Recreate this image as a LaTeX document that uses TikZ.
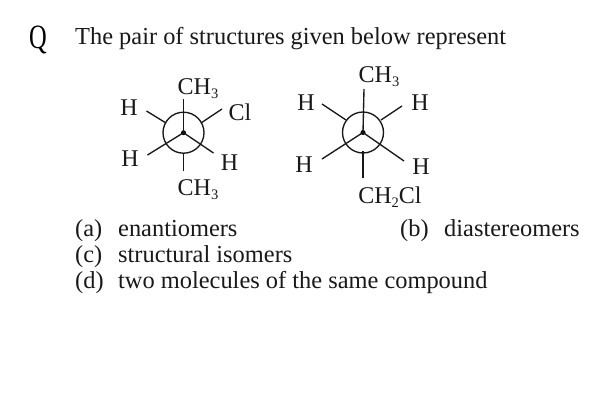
\documentclass[tikz,border=0pt]{standalone}
\usepackage{fontspec}
\setmainfont{Liberation Serif}
\tikzset{
  txt/.style={inner sep=0pt,anchor=base west,font=\fontsize{24.4}{26}\selectfont,text=black!90},
  atom/.style={inner sep=0pt,anchor=base,font=\fontsize{24}{26}\selectfont,text=black!90},
  bond/.style={line width=1.35pt,black!90},
  ring/.style={line width=1.35pt,black!90,circle,draw,inner sep=0pt,minimum size=41pt},
  hub/.style={circle,fill=black,inner sep=0pt,minimum size=5pt}
}
\newcommand{\subs}[1]{\raisebox{-4pt}{\fontsize{14.5}{14}\selectfont #1}}
\begin{document}
\begin{tikzpicture}[x=1pt,y=-1pt]
\useasboundingbox[fill=white] (0,0) rectangle (600,400);
\node[txt,font=\fontsize{34}{35}\selectfont,xscale=0.72,text=black] (q) at (29,48) {Q};
\node[txt] (title) at (75,44) {The pair of structures given below represent};
% left Newman projection
\node[ring] (c1) at (183.5,132.7) {};
\node[hub] (h1) at (183.5,132.7) {};
\foreach \n/\x/\y in {a/183.5/99,b/147.5/155,c/213.5/153}{\coordinate (l\n) at (\x,\y);}
\draw[bond] (h1.center) -- (la);
\draw[bond] (h1.center) -- (lb);
\draw[bond] (h1.center) -- (lc);
\coordinate (ld) at (146.5,111); \coordinate (ld2) at (166,123);
\coordinate (le) at (222,109); \coordinate (le2) at (201,123);
\coordinate (lf) at (183.5,171); \coordinate (lf2) at (183.5,153);
\draw[bond] (ld) -- (ld2);
\draw[bond] (le) -- (le2);
\draw[bond] (lf) -- (lf2);
\node[atom] (l1) at (198,94) {CH\subs{3}};
\node[atom] (l2) at (129,115) {H};
\node[atom] (l3) at (240,120) {Cl};
\node[atom] (l4) at (130,166) {H};
\node[atom] (l5) at (229.5,170) {H};
\node[atom] (l6) at (198,195) {CH\subs{3}};
% right Newman projection
\node[ring] (c2) at (363,132.5) {};
\node[hub] (h2) at (363,132.5) {};
\coordinate (ra) at (364,89); \coordinate (rb) at (322,159); \coordinate (rc) at (404,161);
\draw[bond] (h2.center) -- (ra);
\draw[bond] (h2.center) -- (rb);
\draw[bond] (h2.center) -- (rc);
\coordinate (rd) at (322,104); \coordinate (rd2) at (346,120);
\coordinate (re) at (402,106); \coordinate (re2) at (381,120);
\coordinate (rf) at (363,178); \coordinate (rf2) at (363,151);
\draw[bond] (rd) -- (rd2);
\draw[bond] (re) -- (re2);
\draw[bond] (rf) -- (rf2);
\node[atom] (r1) at (379,82) {CH\subs{3}};
\node[atom] (r2) at (306,110) {H};
\node[atom] (r3) at (420,110) {H};
\node[atom] (r4) at (304,172) {H};
\node[atom] (r5) at (421,174) {H};
\node[atom] (r6) at (390,203) {CH\subs{2}Cl};
% options
\node[txt] (oa) at (75,236) {(a)};
\node[txt] (ta) at (118,236) {enantiomers};
\node[txt] (ob) at (400,236) {(b)};
\node[txt] (tb) at (444,236) {diastereomers};
\node[txt] (oc) at (75,262) {(c)};
\node[txt] (tc) at (118,262) {structural isomers};
\node[txt] (od) at (75,288) {(d)};
\node[txt] (td) at (118,288) {two molecules of the same compound};
\end{tikzpicture}
\end{document}
